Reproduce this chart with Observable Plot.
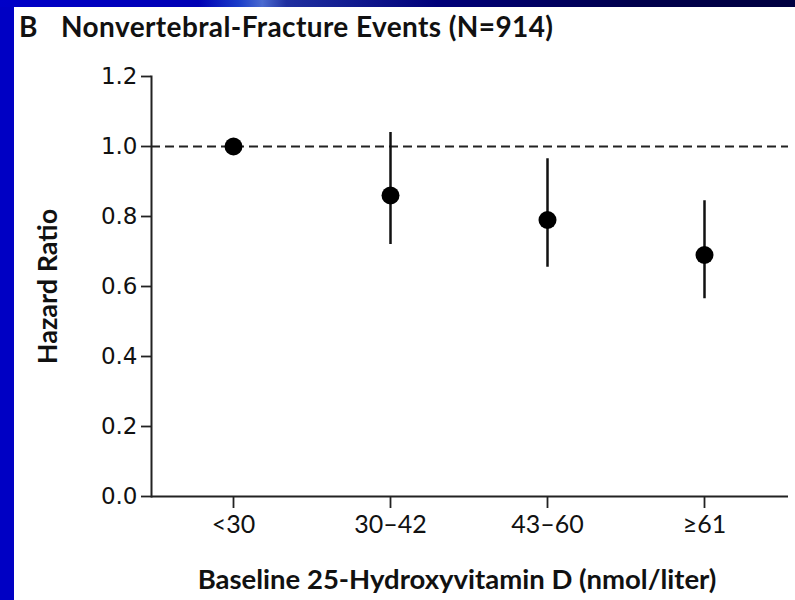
<!DOCTYPE html>
<html>
<head>
<meta charset="utf-8">
<script src="https://cdn.jsdelivr.net/npm/d3@7"></script>
<script src="https://cdn.jsdelivr.net/npm/@observablehq/plot@0.6"></script>
<style>
  html, body { margin: 0; padding: 0; }
  body { width: 795px; height: 600px; overflow: hidden; background: #0000c4; }
  #stage { position: relative; width: 795px; height: 600px; }
  #topbar { position: absolute; left: 0; top: 0; width: 795px; height: 7px;
    background: linear-gradient(to right, #0000c8 0%, #0000b4 25%, #1a3cc8 30%, #4a6ad0 33%, #2030a0 36%, #00007a 55%, #00004c 80%, #000040 100%); }
  #panel { position: absolute; left: 14px; top: 7px; width: 781px; height: 593px; background: #fff; }
  .title { position: absolute; top: 9px; font-family: Lato, sans-serif; font-weight: 700;
    font-size: 28px; color: #111; white-space: pre; }
  #chart { position: absolute; left: 0; top: 50px; }
</style>
</head>
<body>
<div id="stage">
  <div id="topbar"></div>
  <div id="panel"></div>
  <div class="title" style="left:19px">B</div>
  <div class="title" style="left:61px; letter-spacing:0.4px">Nonvertebral-Fracture Events (N=914)</div>
  <div id="chart"></div>
</div>
<script>
const categories = ["<30", "30\u201342", "43\u201360", "\u226561"];
const hazardRatio = [1.0, 0.86, 0.79, 0.69];
const ciLower = [null, 0.72, 0.655, 0.565];
const ciUpper = [null, 1.04, 0.965, 0.845];
const yTicks = [0, 0.2, 0.4, 0.6, 0.8, 1.0, 1.2];

const rows = categories.map((c, i) => ({cat: c, hr: hazardRatio[i], lo: ciLower[i], hi: ciUpper[i]}));
const ciRows = rows.filter(d => d.lo != null && d.hi != null);

const chart = Plot.plot({
  width: 795,
  height: 550,
  marginLeft: 151,
  marginRight: 7,
  marginTop: 26,
  marginBottom: 104,
  style: {background: "transparent", color: "#111"},
  x: {type: "point", domain: categories, padding: 0.5, insetLeft: 3, insetRight: 6},
  y: {domain: [0, 1.2]},
  marks: [
    Plot.axisY({ticks: yTicks, tickFormat: d3.format(".1f"), tickSize: 10, tickPadding: 4,
      fontSize: 23, fontFamily: "DejaVu Sans", stroke: "#222", strokeWidth: 1.8,
      label: "Hazard Ratio", labelAnchor: "center", labelOffset: 114, labelArrow: "none"}),
    Plot.axisX({tickSize: 12, tickPadding: 7, fontSize: 25, fontFamily: "Lato",
      stroke: "#222", strokeWidth: 1.8,
      label: "Baseline 25-Hydroxyvitamin D (nmol/liter)", labelAnchor: "center", labelOffset: 92, labelArrow: "none"}),
    Plot.frame({anchor: "left", stroke: "#222", strokeWidth: 2}),
    Plot.ruleY([0], {stroke: "#222", strokeWidth: 2}),
    Plot.ruleY([1], {stroke: "#222", strokeWidth: 2, strokeDasharray: "9,5"}),
    Plot.ruleX(ciRows, {x: "cat", y1: "lo", y2: "hi", stroke: "#111", strokeWidth: 2.5}),
    Plot.dot(rows, {x: "cat", y: "hr", r: 9, fill: "#000", stroke: "none"})
  ]
});
document.getElementById("chart").appendChild(chart);

// style axis labels (bold)
chart.querySelectorAll("g[aria-label='y-axis label'] text").forEach(t => {
  t.setAttribute("font-weight", "700");
  t.setAttribute("font-family", "Lato");
  t.setAttribute("font-size", "27");
});
chart.querySelectorAll("g[aria-label='x-axis label']").forEach(g => {
  const prev = g.getAttribute("transform") || "";
  g.setAttribute("transform", (prev + " translate(-13,0)").trim());
  g.querySelectorAll("text").forEach(t => {
    t.setAttribute("font-weight", "700");
    t.setAttribute("font-family", "Lato");
    t.setAttribute("font-size", "27.5");
  });
});
</script>
</body>
</html>
